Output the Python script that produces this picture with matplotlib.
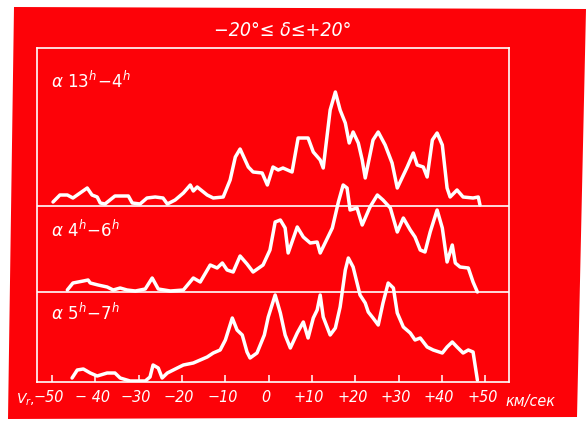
import matplotlib.pyplot as plt
from matplotlib.patches import Polygon
from matplotlib.transforms import ScaledTranslation

# radial velocity (km/s) and profile height for each alpha range
v1 = [-49.8, -48.2, -46.5, -45.2, -41.9, -40.8, -39.6, -38.9, -37.8, -35.5, -32.4, -31.5,
      -29.7, -28.1, -26.2, -24.4, -23.4, -21.6, -19.7, -18.1, -17.4, -16.5, -14.2, -12.8,
      -10.5, -8.9, -7.7, -6.6, -4.7, -3.6, -1.5, -0.3, 1.0, 2.2, 3.3, 5.4, 6.8, 9.1, 10.3,
      11.9, 12.6, 14.2, 15.4, 16.5, 17.7, 18.6, 19.5, 20.7, 21.6, 22.3, 24.1, 25.3, 26.9,
      28.5, 29.7, 32.0, 33.4, 34.3, 35.7, 36.6, 37.8, 38.9, 40.1, 41.2, 41.9, 43.5, 44.9,
      47.2, 48.4, 48.8]
h1 = [4, 11, 11, 8, 18, 11, 9, 3, 2, 10, 10, 3,
      2, 8, 9, 8, 2, 6, 13, 21, 15, 19, 11, 8,
      9, 26, 49, 57, 39, 34, 33, 21, 39, 36, 38, 34, 68, 68, 54,
      46, 38, 96, 114, 96, 83, 63, 74, 63, 46, 28, 66, 74, 61,
      43, 18, 39, 53, 41, 39, 29, 66, 73, 61, 18, 9, 16, 9,
      8, 9, 1]

v2 = [-46.5, -45.2, -42.8, -41.7, -41.2, -39.4, -37.3, -35.9, -34.3, -32.7, -30.8, -28.5,
      -26.9, -25.5, -22.7, -19.7, -17.4, -15.8, -13.5, -11.9, -10.7, -9.6, -8.2, -6.6,
      -5.0, -3.6, -1.3, 0.3, 1.5, 2.7, 3.8, 4.5, 6.6, 8.0, 9.6, 11.2, 11.9, 14.7, 16.1,
      17.2, 18.1, 18.8, 20.4, 21.6, 23.4, 25.1, 26.4, 28.1, 29.7, 31.1, 32.7, 33.8, 35.0,
      36.1, 37.3, 38.9, 40.1, 41.2, 42.4, 43.1, 44.2, 46.1, 47.2, 48.2]
h2 = [2, 9, 11, 12, 9, 7, 5, 2, 4, 2, 1, 3,
      14, 3, 1, 2, 14, 10, 27, 24, 29, 22, 20, 36,
      28, 20, 27, 42, 70, 72, 64, 39, 65, 55, 49, 50, 39, 64, 90,
      107, 104, 82, 84, 67, 85, 97, 92, 84, 60, 74, 62, 55, 42,
      40, 60, 82, 64, 30, 47, 29, 25, 24, 10, 0]

v3 = [-45.4, -44.2, -42.8, -41.2, -39.6, -37.3, -35.5, -34.3, -32.0, -28.5, -27.4, -26.7,
      -25.5, -24.6, -23.4, -21.1, -19.7, -17.4, -15.8, -14.2, -12.8, -11.2, -10.0, -8.4,
      -7.3, -6.1, -5.0, -4.3, -2.7, -1.0, -0.1, 1.5, 2.7, 3.8, 5.0, 6.6, 8.0, 9.1, 10.3,
      11.2, 11.9, 12.6, 14.2, 15.4, 16.5, 17.7, 18.4, 19.5, 21.1, 22.3, 23.0, 24.1, 25.3,
      26.4, 27.6, 28.8, 29.7, 31.1, 32.7, 33.8, 35.0, 36.6, 38.0, 40.1, 41.2, 42.4, 43.5,
      44.9, 46.1, 47.2, 48.2]
h3 = [4, 12, 13, 9, 6, 9, 9, 4, 1, 1, 5, 17,
      14, 4, 9, 14, 17, 19, 22, 25, 29, 32, 42, 64,
      52, 47, 30, 24, 29, 47, 65, 87, 69, 47, 34, 49, 60, 44, 64,
      72, 87, 65, 47, 54, 75, 112, 124, 115, 87, 79, 70, 64, 57,
      79, 99, 94, 69, 55, 49, 42, 44, 35, 32, 29, 35, 40, 35,
      29, 32, 30, 2]

baselines = [176, 90, 0]
labels = [r'$\alpha\ 13^h\!-\!4^h$', r'$\alpha\ 4^h\!-\!6^h$', r'$\alpha\ 5^h\!-\!7^h$']
label_y = [0.90, 0.455, 0.205]
ticks = [-50, -40, -30, -20, -10, 0, 10, 20, 30, 40, 50]
tick_labels = ['\u221250', '\u2212 40', '\u221230', '\u221220', '\u221210', '0',
               '+10', '+20', '+30', '+40', '+50']

RED = '#fd0208'
W = 'white'
fonts = ['DejaVu Sans']
plt.rcParams['mathtext.fontset'] = 'dejavusans'
narrow = dict(family=fonts, style='italic', stretch='condensed')

fig = plt.figure(figsize=(5.87, 4.23), dpi=100, facecolor=W)
# red card behind the plot
corners = [(14, 7), (586, 9), (577, 417), (8, 419)]
fig.patches.append(Polygon([(x / 587, 1 - y / 423) for x, y in corners], closed=True,
                           transform=fig.transFigure, facecolor=RED, edgecolor='none', zorder=-5))

ax = fig.add_axes([37 / 587, 41 / 423, 472 / 587, 334 / 423])
ax.set_zorder(1)
ax.set_facecolor('none')
for s in ax.spines.values():
    s.set_color(W)
    s.set_linewidth(1.2)

for v, h, b in zip([v1, v2, v3], [h1, h2, h3], baselines):
    ax.plot(v, [b + y for y in h], color=W, lw=2.5, solid_joinstyle='round',
            solid_capstyle='round', zorder=3)
for b in baselines[:2]:
    ax.axhline(b, color=W, lw=1.2, zorder=2)

ax.set_xlim(-53.5, 55.5)
ax.set_ylim(0, 334)
ax.set_yticks([])
ax.set_xticks(ticks)
ax.set_xticklabels(tick_labels, fontsize=11.5, color=W, **narrow)
ax.tick_params(axis='x', direction='in', length=5, width=1.1, color=W, pad=6)
shift = ScaledTranslation(-3 / 100, 0, fig.dpi_scale_trans)
for lab in ax.get_xticklabels():
    lab.set_transform(lab.get_transform() + shift)

for lab, y in zip(labels, label_y):
    ax.text(0.03, y, lab, transform=ax.transAxes, color=W, fontsize=12,
            ha='left', va='center')

fig.text(283 / 587, 1 - 30 / 423, '\u221220\u00b0\u2264 \u03b4\u2264+20\u00b0', color=W,
         fontsize=14, ha='center', va='center', zorder=2, **narrow)
fig.text(25 / 587, 1 - 400 / 423, r'$V_r$,', color=W, fontsize=10, ha='center', va='center',
         zorder=2)
fig.text(530 / 587, 1 - 401 / 423, '\u043a\u043c/\u0441\u0435\u043a', color=W, fontsize=11.5,
         ha='center', va='center', zorder=2, **narrow)

fig.savefig('out.png', dpi=100, facecolor=W)
